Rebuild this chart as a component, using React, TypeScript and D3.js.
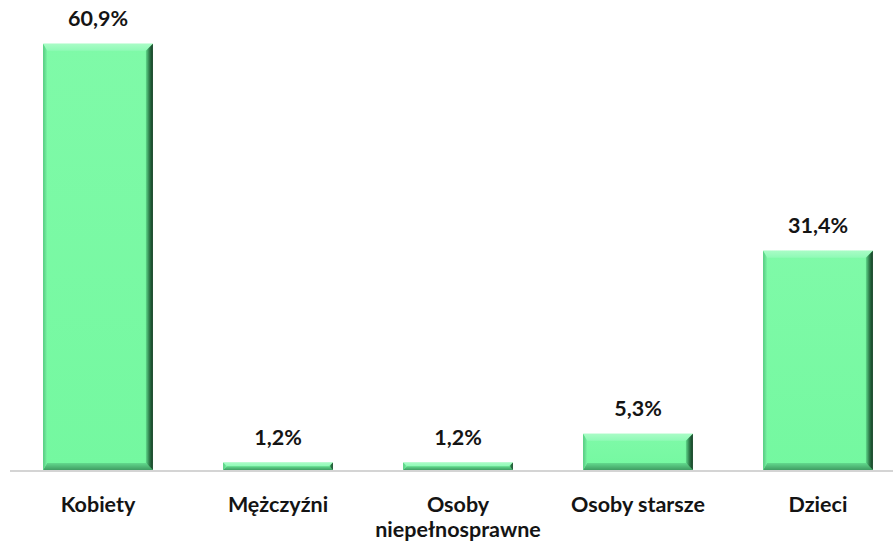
import React from "react";
import * as d3 from "d3";

const categories: string[][] = [
  ["Kobiety"],
  ["Mężczyźni"],
  ["Osoby", "niepełnosprawne"],
  ["Osoby starsze"],
  ["Dzieci"],
];
const values: number[] = [60.9, 1.2, 1.2, 5.3, 31.4];
const valueLabels: string[] = ["60,9%", "1,2%", "1,2%", "5,3%", "31,4%"];

const W = 893;
const H = 545;
const FONT = "Lato, 'Open Sans', sans-serif";

export default function App() {
  const keys = categories.map((c) => c.join(" "));
  const x = d3
    .scaleBand<string>()
    .domain(keys)
    .range([8, 908])
    .paddingInner(0.39)
    .paddingOuter(0.195);
  const y = d3.scaleLinear().domain([0, 65]).range([471, 15]);
  const bw = x.bandwidth();

  return (
    <svg
      width={W}
      height={H}
      style={{ position: "absolute", left: 0, top: 0, background: "#fff" }}
    >
      <defs>
        <linearGradient id="rightEdge" x1="0" x2="1" y1="0" y2="0">
          <stop offset="0" stopColor="#5fd88a" />
          <stop offset="0.5" stopColor="#2e7a4a" />
          <stop offset="1" stopColor="#143822" />
        </linearGradient>
        <linearGradient id="topEdge" x1="0" x2="0" y1="0" y2="1">
          <stop offset="0" stopColor="#a9fcc6" />
          <stop offset="1" stopColor="#8ffab6" />
        </linearGradient>
        <linearGradient id="bottomEdge" x1="0" x2="0" y1="0" y2="1">
          <stop offset="0" stopColor="#62d98d" />
          <stop offset="1" stopColor="#3f9e63" />
        </linearGradient>
        <linearGradient id="leftEdge" x1="0" x2="1" y1="0" y2="0">
          <stop offset="0" stopColor="#55c980" />
          <stop offset="1" stopColor="#7af5a5" />
        </linearGradient>
        <linearGradient id="face" x1="0" x2="0" y1="0" y2="1">
          <stop offset="0" stopColor="#7ffaa8" />
          <stop offset="1" stopColor="#74f8a0" />
        </linearGradient>
      </defs>
      <line x1={10} x2={893} y1={y(0)} y2={y(0)} stroke="#d4d4d4" strokeWidth={2} />
      {values.map((v, i) => {
        const x0 = x(keys[i])!;
        const x1 = x0 + bw;
        const top = y(v);
        const bot = y(0) - 1;
        const h = bot - top;
        const b = Math.min(7, h / 2);
        const bl = Math.min(4, h / 2);
        return (
          <g key={keys[i]}>
            <rect x={x0} y={top} width={bw} height={h} fill="url(#face)" />
            <polygon
              points={`${x0},${top} ${x1},${top} ${x1 - b},${top + b} ${x0 + bl},${top + b}`}
              fill="url(#topEdge)"
            />
            <polygon
              points={`${x0},${bot} ${x1},${bot} ${x1 - b},${bot - b} ${x0 + bl},${bot - b}`}
              fill="url(#bottomEdge)"
            />
            <polygon
              points={`${x0},${top} ${x0 + bl},${top + b} ${x0 + bl},${bot - b} ${x0},${bot}`}
              fill="url(#leftEdge)"
            />
            <polygon
              points={`${x1},${top} ${x1 - b},${top + b} ${x1 - b},${bot - b} ${x1},${bot}`}
              fill="url(#rightEdge)"
            />
            <text
              x={x0 + bw / 2}
              y={top - 18}
              textAnchor="middle"
              fontFamily={FONT}
              fontWeight="bold"
              fontSize={21.5}
              fill="#141414"
            >
              {valueLabels[i]}
            </text>
            <text
              x={x0 + bw / 2}
              y={512}
              textAnchor="middle"
              fontFamily={FONT}
              fontWeight="bold"
              fontSize={21.5}
              fill="#141414"
            >
              {categories[i].map((line, j) => (
                <tspan key={j} x={x0 + bw / 2} dy={j === 0 ? 0 : 25}>
                  {line}
                </tspan>
              ))}
            </text>
          </g>
        );
      })}
    </svg>
  );
}
